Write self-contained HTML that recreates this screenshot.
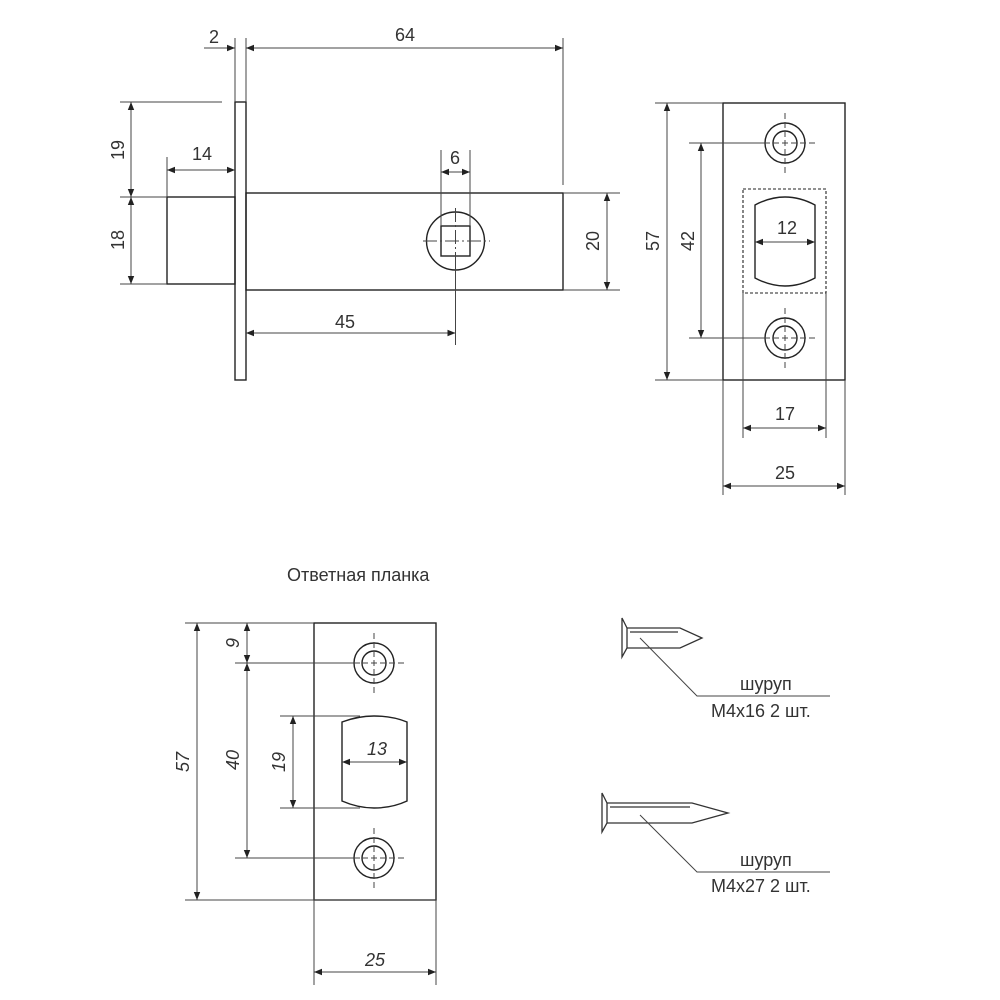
<!DOCTYPE html>
<html><head><meta charset="utf-8"><style>
html,body{margin:0;padding:0;background:#fff;}
svg{display:block;}
text{font-family:"Liberation Sans",sans-serif;font-size:18px;fill:#333;}
.it{font-style:italic;}
</style></head><body>
<svg width="1000" height="1000" viewBox="0 0 1000 1000" xmlns="http://www.w3.org/2000/svg">
<defs>
<marker id="a" viewBox="0 0 10 10" refX="10" refY="5" markerWidth="10" markerHeight="8" orient="auto-start-reverse" markerUnits="userSpaceOnUse"><path d="M0,1 L10,5 L0,9 z" fill="#222"/></marker>
</defs>
<g stroke="#222" stroke-width="1.4" fill="none">
<rect x="235" y="102" width="11" height="278"/>
<rect x="246" y="193" width="317" height="97"/>
<rect x="167" y="197" width="68" height="87"/>
<circle cx="455.5" cy="241" r="29"/>
<rect x="441" y="226" width="29" height="30"/>
</g>
<g stroke="#444" stroke-width="1" fill="none">
<line x1="455.5" y1="208" x2="455.5" y2="256" stroke-dasharray="14,3,2,3"/>
<line x1="455.5" y1="256" x2="455.5" y2="345"/>
<line x1="423" y1="241" x2="490" y2="241" stroke-dasharray="14,3,2,3"/>
<line x1="235" y1="38" x2="235" y2="102"/>
<line x1="246" y1="38" x2="246" y2="102"/>
<line x1="563" y1="38" x2="563" y2="185"/>
<line x1="120" y1="102" x2="222" y2="102"/>
<line x1="120" y1="197" x2="167" y2="197"/>
<line x1="120" y1="284" x2="167" y2="284"/>
<line x1="167" y1="157" x2="167" y2="197"/>
<line x1="441" y1="150" x2="441" y2="226"/>
<line x1="470" y1="150" x2="470" y2="226"/>
<line x1="563" y1="193" x2="620" y2="193"/>
<line x1="563" y1="290" x2="620" y2="290"/>
<line x1="204" y1="48" x2="235" y2="48" marker-end="url(#a)"/>
<line x1="246" y1="48" x2="563" y2="48" marker-start="url(#a)" marker-end="url(#a)"/>
<line x1="131" y1="102" x2="131" y2="197" marker-start="url(#a)" marker-end="url(#a)"/>
<line x1="131" y1="197" x2="131" y2="284" marker-start="url(#a)" marker-end="url(#a)"/>
<line x1="167" y1="170" x2="235" y2="170" marker-start="url(#a)" marker-end="url(#a)"/>
<line x1="441" y1="172" x2="470" y2="172" marker-start="url(#a)" marker-end="url(#a)"/>
<line x1="246" y1="333" x2="455.5" y2="333" marker-start="url(#a)" marker-end="url(#a)"/>
<line x1="607" y1="193" x2="607" y2="290" marker-start="url(#a)" marker-end="url(#a)"/>
</g>
<text x="214" y="43" text-anchor="middle">2</text>
<text x="405" y="41" text-anchor="middle">64</text>
<text x="202" y="160" text-anchor="middle">14</text>
<text x="455" y="164" text-anchor="middle">6</text>
<text x="345" y="328" text-anchor="middle">45</text>
<text transform="translate(124,150) rotate(-90)" text-anchor="middle">19</text>
<text transform="translate(124,240) rotate(-90)" text-anchor="middle">18</text>
<text transform="translate(599,241) rotate(-90)" text-anchor="middle">20</text>

<g stroke="#222" stroke-width="1.4" fill="none">
<rect x="723" y="103" width="122" height="277"/>
<circle cx="785" cy="143" r="20"/><circle cx="785" cy="143" r="12"/>
<circle cx="785" cy="338" r="20"/><circle cx="785" cy="338" r="12"/>
<path d="M755,205 Q770,197 785,197 Q800,197 815,205 L815,278 Q800,286 785,286 Q770,286 755,278 Z"/>
<rect x="743" y="189" width="83" height="104" stroke-dasharray="3,2" stroke-width="1.1"/>
</g>
<g stroke="#444" stroke-width="1" fill="none">
<line x1="785" y1="113" x2="785" y2="173" stroke-dasharray="6,3"/>
<line x1="755" y1="143" x2="815" y2="143" stroke-dasharray="6,3"/>
<line x1="785" y1="308" x2="785" y2="368" stroke-dasharray="6,3"/>
<line x1="755" y1="338" x2="815" y2="338" stroke-dasharray="6,3"/>
<line x1="655" y1="103" x2="723" y2="103"/>
<line x1="655" y1="380" x2="723" y2="380"/>
<line x1="689" y1="143" x2="770" y2="143"/>
<line x1="689" y1="338" x2="770" y2="338"/>
<line x1="743" y1="293" x2="743" y2="438"/>
<line x1="826" y1="293" x2="826" y2="438"/>
<line x1="723" y1="380" x2="723" y2="495"/>
<line x1="845" y1="380" x2="845" y2="495"/>
<line x1="667" y1="103" x2="667" y2="380" marker-start="url(#a)" marker-end="url(#a)"/>
<line x1="701" y1="143" x2="701" y2="338" marker-start="url(#a)" marker-end="url(#a)"/>
<line x1="755" y1="242" x2="815" y2="242" marker-start="url(#a)" marker-end="url(#a)"/>
<line x1="743" y1="428" x2="826" y2="428" marker-start="url(#a)" marker-end="url(#a)"/>
<line x1="723" y1="486" x2="845" y2="486" marker-start="url(#a)" marker-end="url(#a)"/>
</g>
<text x="787" y="234" text-anchor="middle">12</text>
<text x="785" y="420" text-anchor="middle">17</text>
<text x="785" y="479" text-anchor="middle">25</text>
<text transform="translate(659,241) rotate(-90)" text-anchor="middle">57</text>
<text transform="translate(694,241) rotate(-90)" text-anchor="middle">42</text>

<text x="287" y="581">Ответная планка</text>
<g stroke="#222" stroke-width="1.4" fill="none">
<rect x="314" y="623" width="122" height="277"/>
<circle cx="374" cy="663" r="20"/><circle cx="374" cy="663" r="12"/>
<circle cx="374" cy="858" r="20"/><circle cx="374" cy="858" r="12"/>
<path d="M342,722 Q358,716 374,716 Q392,716 407,722 L407,801 Q392,808 374,808 Q358,808 342,801 Z"/>
</g>
<g stroke="#444" stroke-width="1" fill="none">
<line x1="374" y1="633" x2="374" y2="693" stroke-dasharray="6,3"/>
<line x1="344" y1="663" x2="404" y2="663" stroke-dasharray="6,3"/>
<line x1="374" y1="828" x2="374" y2="888" stroke-dasharray="6,3"/>
<line x1="344" y1="858" x2="404" y2="858" stroke-dasharray="6,3"/>
<line x1="185" y1="623" x2="314" y2="623"/>
<line x1="185" y1="900" x2="436" y2="900"/>
<line x1="235" y1="663" x2="360" y2="663"/>
<line x1="235" y1="858" x2="360" y2="858"/>
<line x1="280" y1="716" x2="360" y2="716"/>
<line x1="280" y1="808" x2="360" y2="808"/>
<line x1="314" y1="900" x2="314" y2="985"/>
<line x1="436" y1="900" x2="436" y2="985"/>
<line x1="197" y1="623" x2="197" y2="900" marker-start="url(#a)" marker-end="url(#a)"/>
<line x1="247" y1="623" x2="247" y2="663" marker-start="url(#a)" marker-end="url(#a)"/>
<line x1="247" y1="663" x2="247" y2="858" marker-start="url(#a)" marker-end="url(#a)"/>
<line x1="293" y1="716" x2="293" y2="808" marker-start="url(#a)" marker-end="url(#a)"/>
<line x1="342" y1="762" x2="407" y2="762" marker-start="url(#a)" marker-end="url(#a)"/>
<line x1="314" y1="972" x2="436" y2="972" marker-start="url(#a)" marker-end="url(#a)"/>
</g>
<text class="it" x="377" y="755" text-anchor="middle">13</text>
<text class="it" x="375" y="966" text-anchor="middle">25</text>
<text class="it" transform="translate(189,762) rotate(-90)" text-anchor="middle">57</text>
<text class="it" transform="translate(239,643) rotate(-90)" text-anchor="middle">9</text>
<text class="it" transform="translate(239,760) rotate(-90)" text-anchor="middle">40</text>
<text class="it" transform="translate(285,762) rotate(-90)" text-anchor="middle">19</text>

<g stroke="#333" stroke-width="1.3" fill="none">
<path d="M622,618 L627,628 L627,648 L622,657 Z"/>
<path d="M627,628 L680,628 L702,638 L680,648 L627,648"/>
<line x1="630" y1="632" x2="678" y2="632"/>
<path d="M602,793 L607,803 L607,823 L602,832 Z"/>
<path d="M607,803 L692,803 L728,813 L692,823 L607,823"/>
<line x1="610" y1="807" x2="690" y2="807"/>
</g>
<g stroke="#444" stroke-width="1" fill="none">
<polyline points="640,638 697,696 830,696"/>
<polyline points="640,815 697,872 830,872"/>
</g>
<text x="740" y="690">шуруп</text>
<text x="711" y="717">M4x16 2 шт.</text>
<text x="740" y="866">шуруп</text>
<text x="711" y="892">M4x27 2 шт.</text>
</svg>
</body></html>
